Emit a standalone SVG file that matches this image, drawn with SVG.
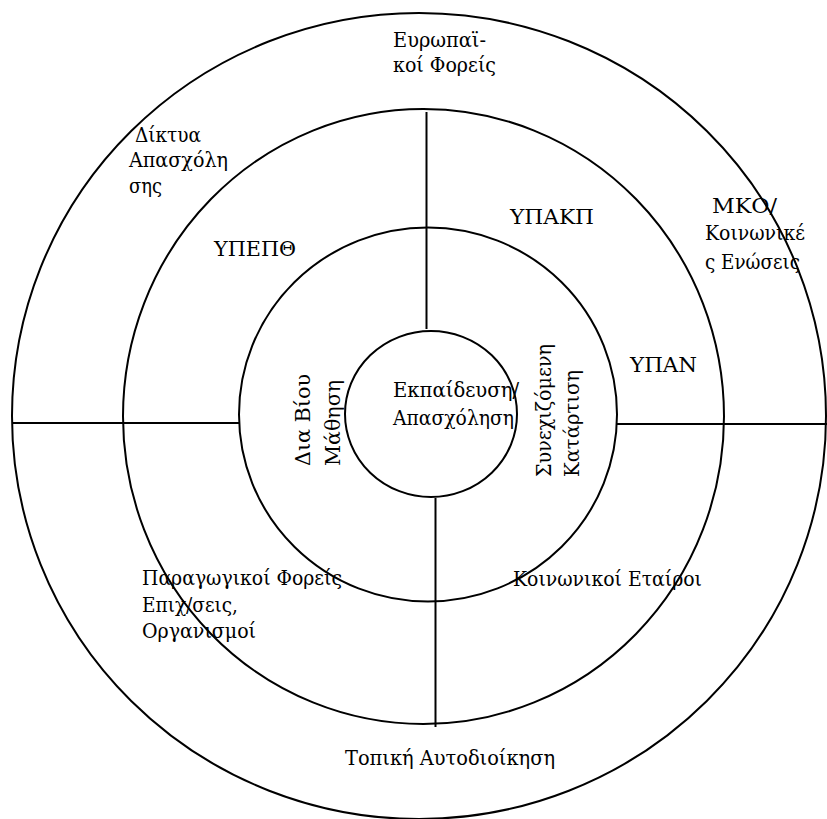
<svg xmlns="http://www.w3.org/2000/svg" width="827" height="819" viewBox="0 0 827 819">
  <style>
    .ring { fill: none; stroke: #000; stroke-width: 2; }
    .divider { stroke: #000; stroke-width: 2; fill: none; }
    text { font-family: "DejaVu Serif Condensed", "DejaVu Serif", serif; font-stretch: condensed; font-size: 21px; fill: #000; }
  </style>
  <rect width="827" height="819" fill="#fff"/>

  <!-- concentric rings -->
  <g id="ring-outer"><ellipse class="ring" cx="419" cy="416" rx="407" ry="403"/></g>
  <g id="ring-middle"><ellipse class="ring" cx="423.5" cy="416.5" rx="300.5" ry="307.5"/></g>
  <g id="ring-inner"><ellipse class="ring" cx="428" cy="414.5" rx="189" ry="187"/></g>
  <g id="core">
    <ellipse class="ring" cx="431" cy="414" rx="86" ry="83"/>
    <text x="393" y="397" textLength="126" lengthAdjust="spacingAndGlyphs">Εκπαίδευση/</text>
    <text x="393" y="425" textLength="121" lengthAdjust="spacingAndGlyphs">Απασχόληση</text>
  </g>

  <!-- dividing lines between sectors -->
  <g id="connectors">
    <line class="divider" x1="426.5" y1="112" x2="426.5" y2="329"/>
    <line class="divider" x1="435.5" y1="498" x2="435.5" y2="727"/>
    <line class="divider" x1="12" y1="423" x2="239" y2="423"/>
    <line class="divider" x1="617" y1="424" x2="827" y2="424"/>
  </g>

  <!-- inner ring labels, set vertically -->
  <g id="lifelong-learning">
    <text transform="translate(310 466) rotate(-90)" textLength="92" lengthAdjust="spacingAndGlyphs">Δια Βίου</text>
    <text transform="translate(340 466) rotate(-90)" textLength="86" lengthAdjust="spacingAndGlyphs">Μάθηση</text>
  </g>
  <g id="continuing-training">
    <text transform="translate(551 477) rotate(-90)" textLength="133" lengthAdjust="spacingAndGlyphs">Συνεχιζόμενη</text>
    <text transform="translate(579 477) rotate(-90)" textLength="107" lengthAdjust="spacingAndGlyphs">Κατάρτιση</text>
  </g>

  <!-- middle ring labels -->
  <g id="ypepth"><text x="214" y="256" textLength="82" lengthAdjust="spacingAndGlyphs">ΥΠΕΠΘ</text></g>
  <g id="ypakp"><text x="510" y="224" textLength="84" lengthAdjust="spacingAndGlyphs">ΥΠΑΚΠ</text></g>
  <g id="ypan"><text x="630" y="372" textLength="67" lengthAdjust="spacingAndGlyphs">ΥΠΑΝ</text></g>
  <g id="productive-bodies">
    <text x="142" y="585" textLength="200" lengthAdjust="spacingAndGlyphs">Παραγωγικοί Φορείς</text>
    <text x="142" y="612" textLength="96" lengthAdjust="spacingAndGlyphs">Επιχ/σεις,</text>
    <text x="142" y="638" textLength="114" lengthAdjust="spacingAndGlyphs">Οργανισμοί</text>
  </g>
  <g id="social-partners"><text x="513" y="586" textLength="189" lengthAdjust="spacingAndGlyphs">Κοινωνικοί Εταίροι</text></g>

  <!-- outer ring labels -->
  <g id="european-bodies">
    <text x="393" y="47" textLength="93" lengthAdjust="spacingAndGlyphs">Ευρωπαϊ-</text>
    <text x="393" y="72" textLength="103" lengthAdjust="spacingAndGlyphs">κοί Φορείς</text>
  </g>
  <g id="employment-networks">
    <text x="135" y="142" textLength="66" lengthAdjust="spacingAndGlyphs">Δίκτυα</text>
    <text x="129" y="167" textLength="99" lengthAdjust="spacingAndGlyphs">Απασχόλη</text>
    <text x="129" y="193" textLength="33" lengthAdjust="spacingAndGlyphs">σης</text>
  </g>
  <g id="ngo-associations">
    <text x="712" y="213" textLength="65" lengthAdjust="spacingAndGlyphs">ΜΚΟ/</text>
    <text x="705" y="240" textLength="100" lengthAdjust="spacingAndGlyphs">Κοινωνικέ</text>
    <text x="705" y="269" textLength="95" lengthAdjust="spacingAndGlyphs">ς Ενώσεις</text>
  </g>
  <g id="local-government"><text x="345" y="765" textLength="210" lengthAdjust="spacingAndGlyphs">Τοπική Αυτοδιοίκηση</text></g>
</svg>
